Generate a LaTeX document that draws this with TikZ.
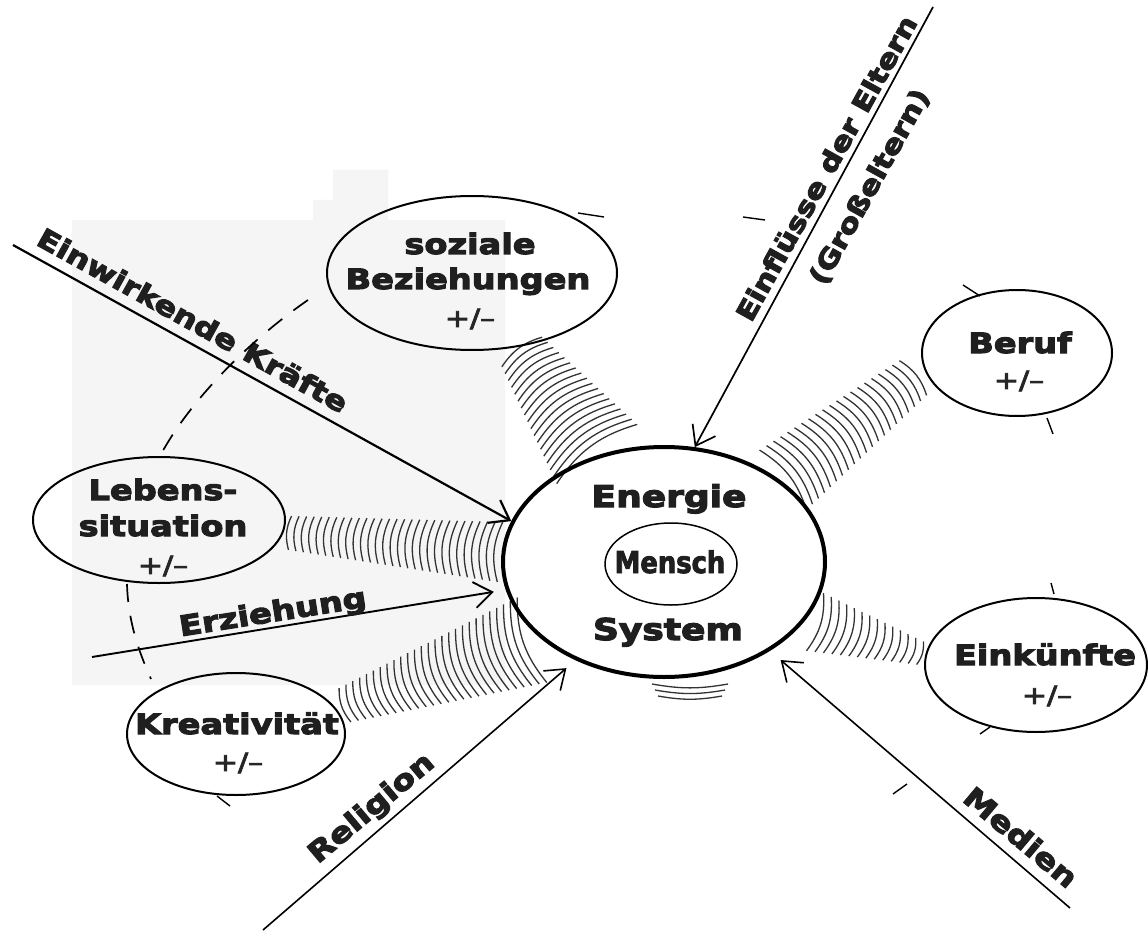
\documentclass[tikz,border=0pt]{standalone}
\usepackage{fontspec}
\setmainfont{DejaVu Sans}
\newfontfamily\hv{DejaVu Sans}[FakeStretch=1.2]
\newfontfamily\hvn{DejaVu Sans}[FakeStretch=0.86]
\usetikzlibrary{shapes.geometric,arrows.meta,calc}
\tikzset{
  heavytext/.style={execute at begin node={\special{pdf:literal direct 2 Tr #1 w}}},
  lbl/.style={font=\hv\bfseries\fontsize{28}{30}\selectfont, inner sep=0pt, text=black!88, heavytext=1.1},
  bigl/.style={font=\hv\bfseries\fontsize{30}{32}\selectfont, inner sep=0pt, text=black!88, heavytext=1.2},
  pm/.style={font=\hv\fontsize{25}{27}\selectfont, inner sep=0pt, text=black!85, heavytext=0.9},
  bubble/.style={draw, ellipse, line width=2pt, inner sep=0pt},
  force/.style={line width=1.8pt, -{Straight Barb[length=18pt,width=26pt]}},
  hatch/.style={line width=1.3pt, black!80},
  loopdash/.style={line width=1.7pt, dash pattern=on 18pt off 14pt},
  tickmark/.style={line width=1.4pt},
}
\newcommand\hatchband[8]{%
  \pgfmathsetmacro\hbang{atan2((#4)-(#2),(#3)-(#1))}%
  \foreach \k in {0,...,#5}{%
    \pgfmathsetmacro\hbt{\k/#5}%
    \pgfmathsetmacro\hbl{#6+(#7-#6)*\hbt}%
    \pgfmathsetmacro\hbx{#1+(#3-#1)*\hbt}%
    \pgfmathsetmacro\hby{#2+(#4-#2)*\hbt}%
    \draw[hatch] ({\hbx+\hbl*cos(\hbang+90)},{\hby+\hbl*sin(\hbang+90)}) to[bend right=#8] ({\hbx-\hbl*cos(\hbang+90)},{\hby-\hbl*sin(\hbang+90)});
  }}
\begin{document}
\begin{tikzpicture}[x=1pt,y=-1pt]
\useasboundingbox (0,0) rectangle (1148,933);
\fill[white] (0,0) rectangle (1148,933);
% faint scanned background
\fill[black!4] (72,220) -- (313,220) -- (313,200) -- (333,200) -- (333,170) -- (388,170) -- (388,220) -- (505,220) -- (505,685) -- (72,685) -- cycle;

% hatch bands
\hatchband{597}{454}{522}{352}{17}{50}{25}{20}
\hatchband{783}{480}{913}{378}{20}{38}{22}{20}
\hatchband{500}{552}{290}{533}{28}{30}{17}{20}
\hatchband{532}{640}{345}{705}{26}{45}{18}{20}
\hatchband{815}{622}{920}{653}{13}{30}{12}{20}
\hatchband{690}{684}{690}{696}{2}{38}{32}{10}

% central system
\node[draw, ellipse, line width=4pt, minimum width=322pt, minimum height=230pt, inner sep=0pt] (C) at (664,562) {};
\node[draw, ellipse, line width=1.5pt, minimum width=132pt, minimum height=82pt, inner sep=0pt] (M) at (671,564) {};
\node[font=\hvn\bfseries\fontsize{30}{32}\selectfont, inner sep=0pt, text=black!88, anchor=base, heavytext=0.8] (tM) at (670,573) {Mensch};
\node[bigl, anchor=base] (tEn) at (669,507) {Energie};
\node[bigl, anchor=base] (tSy) at (668,640) {System};

% outer bubbles
\node[bubble, minimum width=290pt, minimum height=154pt] (soz) at (472,273) {};
\node[lbl, anchor=base] (soz1) at (470,254) {soziale};
\node[lbl, anchor=base] (soz2) at (468,289) {Beziehungen};
\node[pm] (soz3) at (470,319) {+/–};

\node[bubble, minimum width=252pt, minimum height=126pt] (leb) at (159,520) {};
\node[lbl, anchor=base] (leb1) at (163,500) {Lebens-};
\node[lbl, anchor=base] (leb2) at (163,536) {situation};
\node[pm] (leb3) at (163,566) {+/–};

\node[bubble, minimum width=218pt, minimum height=122pt] (kre) at (236,734) {};
\node[lbl, anchor=base] (kre1) at (237,734) {Kreativität};
\node[pm] (kre2) at (238,763) {+/–};

\node[bubble, minimum width=190pt, minimum height=126pt] (ber) at (1017,353) {};
\node[lbl, anchor=base] (ber1) at (1020,353) {Beruf};
\node[pm] (ber2) at (1019,381) {+/–};

\node[bubble, minimum width=222pt, minimum height=134pt] (ein) at (1036,665) {};
\node[lbl, anchor=base] (ein1) at (1045,665) {Einkünfte};
\node[pm] (ein2) at (1047,696) {+/–};

% forces
\coordinate (sEW) at (13,245);
\coordinate (sEF) at (933,7);
\coordinate (sER) at (92,657);
\coordinate (sRE) at (263,930);
\coordinate (sME) at (1070,908);
\draw[force, line width=2.2pt] (sEW) -- (C.165);
\draw[force, line width=1.7pt] (sEF) -- (C.75);
\draw[force, line width=1.9pt, shorten >=12pt] (sER) -- (C.190);
\draw[force, line width=1.6pt, shorten >=12pt] (sRE) -- (C.228);
\draw[force, line width=1.6pt, shorten >=14pt] (sME) -- (C.320);

\node[lbl, font=\hv\bfseries\fontsize{27}{29}\selectfont, rotate=-29] (tEW) at (193,320) {Einwirkende Kräfte};
\node[lbl, font=\hv\bfseries\fontsize{26}{28}\selectfont, rotate=61] (tEF) at (826,168) {Einflüsse der Eltern};
\node[lbl, font=\hv\bfseries\fontsize{26}{28}\selectfont, rotate=61] (tGE) at (870,187) {(Großeltern)};
\node[lbl, rotate=9] (tER) at (273,614) {Erziehung};
\node[lbl, rotate=40] (tRE) at (372,809) {Religion};
\node[lbl, rotate=-40] (tME) at (1021,837) {Medien};

% dashed ring linking the bubbles
\draw[loopdash] (308,300) .. controls (250,340) and (190,400) .. (160,456);
\draw[loopdash] (127,584) .. controls (128,620) and (138,650) .. (151,679);
\draw[tickmark] (578,213) -- (604,217);
\draw[tickmark] (743,217) -- (765,220);
\draw[tickmark] (963,285) -- (980,296);
\draw[tickmark] (1047,418) -- (1053,434);
\draw[tickmark] (1051,583) -- (1054,594);
\draw[tickmark] (980,734) -- (990,727);
\draw[tickmark] (893,794) -- (907,784);
\draw[tickmark] (217,796) -- (230,806);
\end{tikzpicture}
\end{document}
